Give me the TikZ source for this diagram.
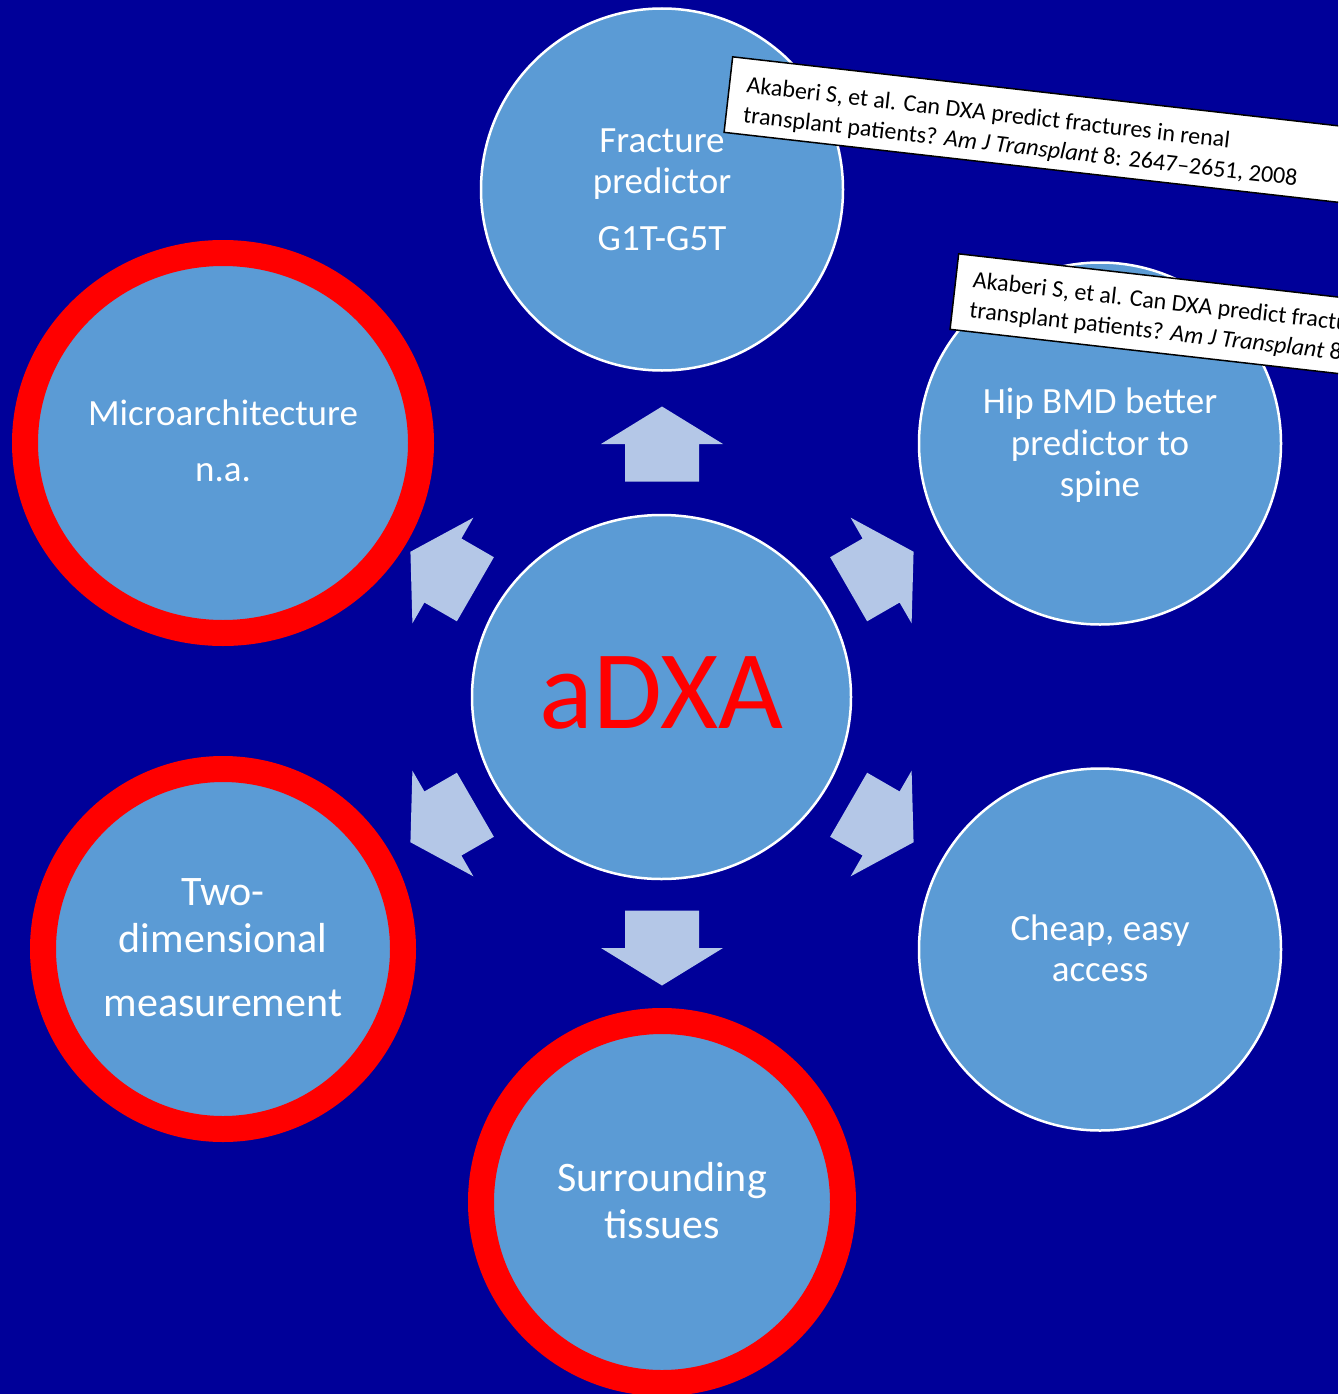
\documentclass[tikz,border=0pt]{standalone}
\usepackage{fontspec}
\setmainfont{Carlito}
\usetikzlibrary{shapes.geometric}
\definecolor{bgblue}{HTML}{000099}
\definecolor{bubblue}{HTML}{5B9BD5}
\definecolor{arrblue}{HTML}{B4C7E7}
\definecolor{alertred}{HTML}{FF0000}
\begin{document}
\begin{tikzpicture}[x=1pt,y=-1pt,
  bub/.style={circle,fill=bubblue,draw=white,line width=2.5pt,inner sep=0pt},
  redbub/.style={fill=bubblue,draw=alertred,line width=26pt,inner sep=0pt},
  lbl/.style={text=white,inner sep=0pt,anchor=base,font=\fontsize{37}{44}\selectfont},
  biglbl/.style={text=white,inner sep=0pt,anchor=base,font=\fontsize{42}{50}\selectfont},
  citebox/.style={draw=black,fill=white,line width=1.5pt,minimum width=660pt,minimum height=76pt,inner sep=0pt,transform shape},
  citetxt/.style={text=black,inner sep=0pt,anchor=base west,transform shape,font=\fontsize{24}{29}\selectfont},
  blockarrow/.pic={\fill[arrblue] (-37.5,-37) -- (0,-37) -- (0,-61) -- (37.5,0) -- (0,61) -- (0,37) -- (-37.5,37) -- cycle;}
]
\useasboundingbox (0,0) rectangle (1338,1394);
\clip (0,0) rectangle (1338,1394);
\fill[bgblue] (0,0) rectangle (1338,1394);

% centre
\node[ellipse,fill=bubblue,draw=white,line width=2.5pt,minimum width=379pt,minimum height=364pt,inner sep=0pt] (c) at (661.5,697) {};
\node[text=alertred,inner sep=0pt,anchor=base,font=\fontsize{112}{120}\selectfont] (ctxt) at (661.5,728) {aDXA};

% outer circles
\node[bub,minimum size=362pt] (top) at (662,189.5) {};
\node[bub,minimum size=362pt] (ur) at (1100,443.5) {};
\node[bub,minimum size=362pt] (lr) at (1100,949.5) {};
\node[redbub,ellipse,minimum width=396pt,minimum height=380pt] (ul) at (223,443) {};
\node[redbub,circle,minimum size=360pt] (ll) at (223,949) {};
\node[redbub,circle,minimum size=362pt] (bot) at (662,1202) {};

% texts
\node[lbl] (top1) at (662,152) {Fracture};
\node[lbl] (top2) at (662,193) {predictor};
\node[lbl] (top3) at (662,250) {G1T-G5T};
\node[lbl] (ur1) at (1100,413) {Hip BMD better};
\node[lbl] (ur2) at (1100,455) {predictor to};
\node[lbl] (ur3) at (1100,496) {spine};
\node[lbl] (lr1) at (1100,940) {Cheap, easy};
\node[lbl] (lr2) at (1100,981) {access};
\node[lbl] (ul1) at (223,425) {Microarchitecture};
\node[lbl] (ul2) at (223,481) {n.a.};
\node[biglbl] (ll1) at (223,905) {Two-};
\node[biglbl] (ll2) at (223,952) {dimensional};
\node[biglbl] (ll3) at (223,1016) {measurement};
\node[biglbl] (bot1) at (662,1191) {Surrounding};
\node[biglbl] (bot2) at (662,1238) {tissues};

% arrows
\pic[rotate=90] at (662,444) {blockarrow};
\pic[rotate=30] at (881.1,570.5) {blockarrow};
\pic[rotate=-30] at (881.1,823.5) {blockarrow};
\pic[rotate=-90] at (662,948) {blockarrow};
\pic[rotate=-150] at (442.9,823.5) {blockarrow};
\pic[rotate=150] at (442.9,570.5) {blockarrow};

% citation boxes
\begin{scope}[shift={(732,56)},rotate=-6.5]
  \node[citebox,anchor=north west] (cite1) at (0,0) {};
  \node[citetxt] (cite1a) at (18,35) {Akaberi S, et al. Can DXA predict fractures in renal};
  \node[citetxt] (cite1b) at (18,65) {transplant patients? \textit{Am J Transplant} 8: 2647–2651, 2008};
\end{scope}
\begin{scope}[shift={(958,253)},rotate=-6.5]
  \node[citebox,anchor=north west] (cite2) at (0,0) {};
  \node[citetxt] (cite2a) at (18,33) {Akaberi S, et al. Can DXA predict fractures in renal};
  \node[citetxt] (cite2b) at (18,63) {transplant patients? \textit{Am J Transplant} 8: 2647–2651, 2008};
\end{scope}
\end{tikzpicture}
\end{document}
